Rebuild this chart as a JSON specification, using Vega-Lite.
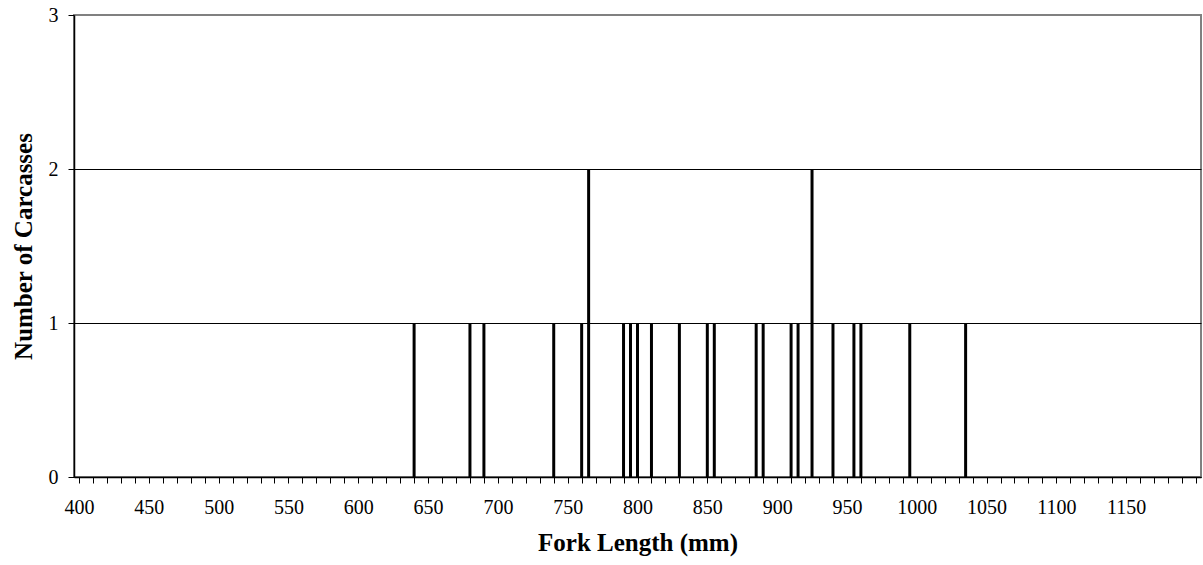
{
  "$schema": "https://vega.github.io/schema/vega-lite/v6.json",
  "autosize": "none",
  "padding": {"left": 74, "top": 15, "right": 2, "bottom": 88},
  "width": 1127,
  "height": 462,
  "background": "white",
  "config": {
    "view": {"stroke": "#808080", "strokeWidth": 2},
    "font": "Liberation Serif"
  },
  "data": {
    "values": [
      {"length": 640, "count": 1},
      {"length": 680, "count": 1},
      {"length": 690, "count": 1},
      {"length": 740, "count": 1},
      {"length": 760, "count": 1},
      {"length": 765, "count": 2},
      {"length": 790, "count": 1},
      {"length": 795, "count": 1},
      {"length": 800, "count": 1},
      {"length": 810, "count": 1},
      {"length": 830, "count": 1},
      {"length": 850, "count": 1},
      {"length": 855, "count": 1},
      {"length": 885, "count": 1},
      {"length": 890, "count": 1},
      {"length": 910, "count": 1},
      {"length": 915, "count": 1},
      {"length": 925, "count": 2},
      {"length": 940, "count": 1},
      {"length": 955, "count": 1},
      {"length": 960, "count": 1},
      {"length": 995, "count": 1},
      {"length": 1035, "count": 1}
    ]
  },
  "mark": {"type": "bar", "color": "black", "width": 3},
  "encoding": {
    "x": {
      "field": "length",
      "type": "quantitative",
      "scale": {"domain": [400, 1200], "nice": false, "zero": false},
      "axis": {
        "title": "Fork Length (mm)",
        "titleFont": "Liberation Serif",
        "titleFontSize": 25,
        "titleFontWeight": "bold",
        "titleColor": "black",
        "titlePadding": 13,
        "values": [400,410,420,430,440,450,460,470,480,490,500,510,520,530,540,550,560,570,580,590,600,610,620,630,640,650,660,670,680,690,700,710,720,730,740,750,760,770,780,790,800,810,820,830,840,850,860,870,880,890,900,910,920,930,940,950,960,970,980,990,1000,1010,1020,1030,1040,1050,1060,1070,1080,1090,1100,1110,1120,1130,1140,1150,1160,1170,1180,1190,1200],
        "labelExpr": "(datum.value % 50 == 0 && datum.value < 1200) ? format(datum.value, 'd') : ''",
        "labelOverlap": false,
        "labelFlush": false,
        "labelFont": "Liberation Serif",
        "labelFontSize": 20,
        "labelColor": "black",
        "labelPadding": 14,
        "tickSize": 6,
        "tickColor": "black",
        "domainColor": "black",
        "domainWidth": 1.5,
        "grid": false
      }
    },
    "y": {
      "field": "count",
      "type": "quantitative",
      "scale": {"domain": [0, 3], "nice": false},
      "axis": {
        "title": "Number of Carcasses",
        "titleFont": "Liberation Serif",
        "titleFontSize": 25,
        "titleFontWeight": "bold",
        "titleColor": "black",
        "titlePadding": 12,
        "values": [0, 1, 2, 3],
        "format": "d",
        "labelFont": "Liberation Serif",
        "labelFontSize": 20,
        "labelColor": "black",
        "labelPadding": 10,
        "tickSize": 6,
        "tickColor": "black",
        "domainColor": "black",
        "domainWidth": 1.5,
        "grid": true,
        "gridColor": {"condition": {"test": "datum.value === 3", "value": "#808080"}, "value": "black"},
        "gridWidth": 1
      }
    }
  }
}
